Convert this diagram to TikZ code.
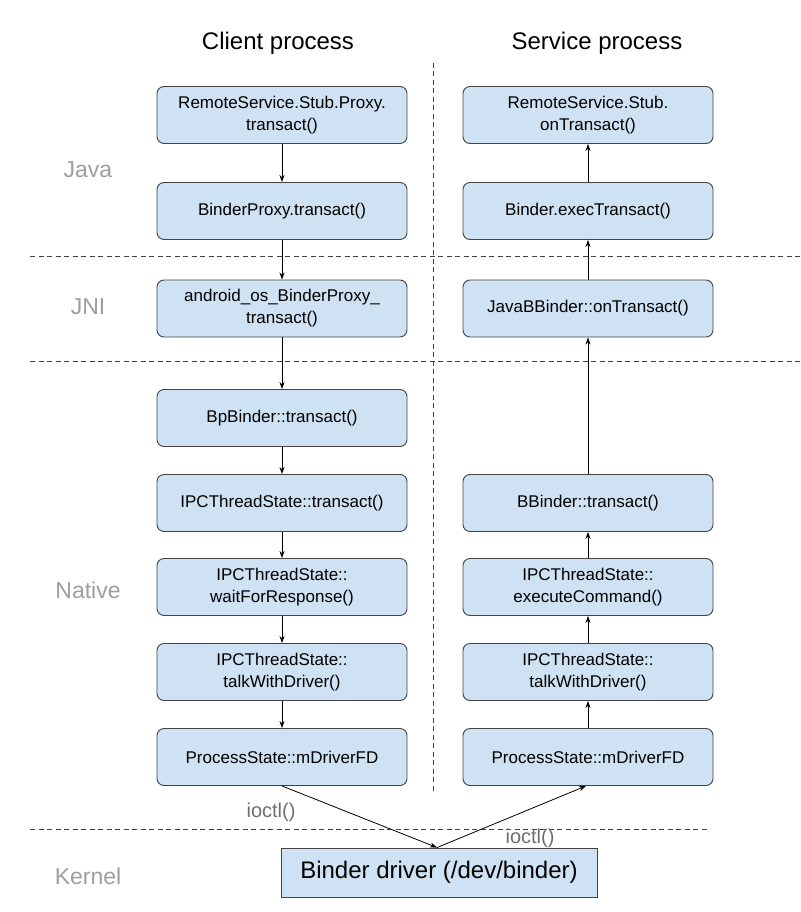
\documentclass[tikz,border=0pt]{standalone}
\usepackage{fontspec}
\setmainfont{Liberation Sans}
\usetikzlibrary{arrows.meta}
\definecolor{boxblue}{HTML}{CFE2F3}
\definecolor{boxline}{HTML}{434343}
\definecolor{layergray}{HTML}{9E9E9E}
\definecolor{callgray}{HTML}{6E6E6E}

\begin{document}
\begin{tikzpicture}[x=1pt,y=-1pt,
    call/.style={draw=boxline,fill=boxblue,rounded corners=7pt,line width=0.9pt,
        minimum width=250pt,minimum height=57pt,align=center,
        font=\fontsize{17}{22}\selectfont},
    driver/.style={draw=boxline,fill=boxblue,line width=0.9pt,
        minimum width=316pt,minimum height=49pt,font=\fontsize{24}{28}\selectfont},
    layer/.style={text=layergray,font=\fontsize{23}{26}\selectfont},
    head/.style={font=\fontsize{24}{28}\selectfont},
    flow/.style={-{Stealth[length=7pt,width=5pt]},line width=0.8pt},
    sep/.style={dashed,dash pattern=on 5pt off 3.5pt,line width=0.8pt,draw=boxline}]
        \useasboundingbox (0,0) rectangle (800,912);
        % layers and processes
        \draw[sep] (30,256) -- (800,256);
        \draw[sep] (30,361) -- (800,361);
        \draw[sep] (30,829) -- (708,829);
        \draw[sep] (433,63) -- (433,793);
        \node[head] (client) at (278,43) {Client process};
        \node[head] (service) at (597,43) {Service process};
        \foreach \name/\y/\txt in {java/170/Java, jni/307/JNI, native/590/Native, kernel/876/Kernel}
            \node[layer] (\name) at (88,\y) {\txt};
        % client side
        \node[call] (c1) at (282,115) {RemoteService.Stub.Proxy.\\transact()};
        \node[call] (c2) at (282,211) {BinderProxy.transact()};
        \node[call] (c3) at (282,308.5) {android\_os\_BinderProxy\_\\transact()};
        \node[call] (c4) at (282,418) {BpBinder::transact()};
        \node[call] (c5) at (282,503) {IPCThreadState::transact()};
        \node[call] (c6) at (282,587) {IPCThreadState::\\waitForResponse()};
        \node[call] (c7) at (282,672) {IPCThreadState::\\talkWithDriver()};
        \node[call] (c8) at (282,757) {ProcessState::mDriverFD};
        \foreach \a/\b in {c1/c2, c2/c3, c3/c4, c4/c5, c5/c6, c6/c7, c7/c8}
            \draw[flow] (\a) -- (\b);
        % service side
        \node[call] (s1) at (588,115) {RemoteService.Stub.\\onTransact()};
        \node[call] (s2) at (588,211) {Binder.execTransact()};
        \node[call] (s3) at (588,308.5) {JavaBBinder::onTransact()};
        \node[call] (s5) at (588,503) {BBinder::transact()};
        \node[call] (s6) at (588,587) {IPCThreadState::\\executeCommand()};
        \node[call] (s7) at (588,672) {IPCThreadState::\\talkWithDriver()};
        \node[call] (s8) at (588,757) {ProcessState::mDriverFD};
        \foreach \a/\b in {s8/s7, s7/s6, s6/s5, s5/s3, s3/s2, s2/s1}
            \draw[flow] (\a) -- (\b);
        % kernel
        \node[driver] (binder) at (439,872.5) {Binder driver (/dev/binder)};
        \coordinate (hit) at ([xshift=-2pt]binder.north);
        \draw[flow] (c8.south) -- (hit);
        \draw[flow] (hit) -- ([xshift=-2pt]s8.south);
        \node[text=callgray,font=\fontsize{20}{24}\selectfont] (ioctl1) at (271,812) {ioctl()};
        \node[text=callgray,font=\fontsize{20}{24}\selectfont] (ioctl2) at (530,838) {ioctl()};
    \end{tikzpicture}
\end{document}
